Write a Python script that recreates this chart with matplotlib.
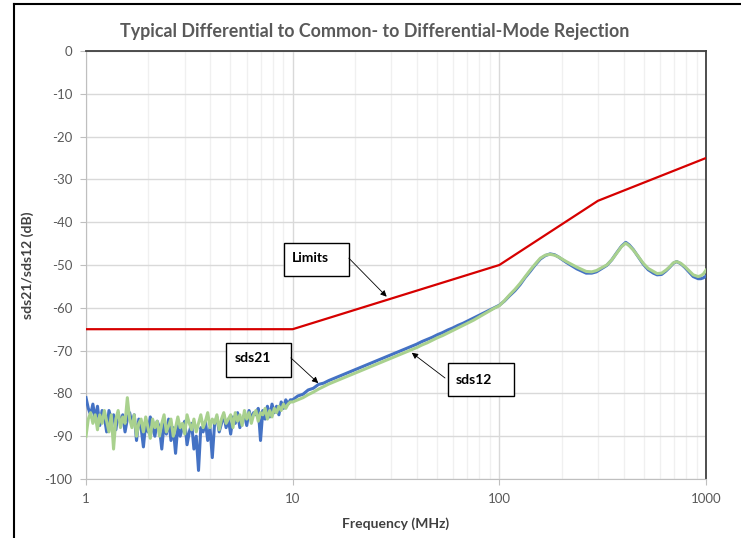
import numpy as np
import matplotlib.pyplot as plt

plt.rcParams['font.family'] = ['Lato', 'DejaVu Sans']
plt.rcParams['axes.unicode_minus'] = False

# limit line
lim_f = [1, 10, 100, 300, 1000]
lim_db = [-65, -65, -50, -35, -25]

# noisy part 1..10 MHz (sweep points)
f_noise = np.logspace(0, 1, 91)
sds21_noise = [-81, -83.5, -85, -82.5, -86, -83, -87.5, -84, -85.5, -89,
               -84, -86, -85, -88.5, -84.5, -87, -85, -89, -86, -84.5,
               -87, -85, -91, -86, -88, -92.5, -87, -89, -85.5, -88,
               -90, -86.5, -88, -93, -87, -89.5, -86, -91, -88, -94,
               -87.5, -90, -88, -86.5, -92, -89, -87, -93, -90, -98,
               -88, -89, -86.5, -91, -88, -95, -87, -85.5, -89, -87,
               -85, -88, -86, -89.5, -85.5, -87, -84.5, -88, -86, -85,
               -87.5, -84, -86, -84.5, -85, -83.5, -91, -84, -86, -83,
               -85.5, -82.5, -84.5, -83, -85, -82, -83.5, -81.5, -82.5, -81.5, -81.5]
sds12_noise = [-90, -86, -84.5, -87, -85, -88.5, -85, -87, -84, -86.5,
               -89, -85, -93, -86, -84, -88, -85.5, -87, -81, -86,
               -88, -85, -90, -87, -86, -89, -85.5, -88, -90.5, -86,
               -88, -86.5, -90, -87, -85, -89, -87.5, -86, -90, -88,
               -85.5, -88, -87, -89.5, -85, -87, -88.5, -86, -89, -87,
               -85, -88, -86.5, -84.5, -88, -86, -87, -85, -88.5, -86,
               -84.5, -87, -86, -85, -88, -84.5, -86.5, -85, -87.5, -84,
               -86, -84.5, -87, -85, -84, -86.5, -84.5, -85, -83.5, -86,
               -84, -85.5, -83.5, -84.5, -83, -84, -82.5, -83.5, -82.5, -82, -82]

# smooth part 10..100 MHz
f_mid = np.logspace(1, 2, 41)[1:]
sds21_mid = [-80.6, -80.2, -79.2, -78.8, -77.9, -77.6, -77.0, -76.5, -76.0, -75.5,
             -75.0, -74.5, -74.0, -73.5, -73.0, -72.5, -72.0, -71.5, -71.0, -70.5,
             -70.0, -69.5, -69.0, -68.5, -67.9, -67.4, -66.9, -66.3, -65.8, -65.2,
             -64.7, -64.1, -63.6, -63.0, -62.4, -61.8, -61.2, -60.6, -60.0, -59.4]
sds12_mid = [-81.5, -81.0, -80.3, -79.7, -79.0, -78.4, -77.8, -77.3, -76.8, -76.3,
             -75.8, -75.3, -74.8, -74.3, -73.8, -73.3, -72.8, -72.3, -71.8, -71.3,
             -70.8, -70.3, -69.8, -69.3, -68.7, -68.2, -67.6, -67.0, -66.5, -65.9,
             -65.3, -64.7, -64.1, -63.5, -62.9, -62.2, -61.5, -60.8, -60.1, -59.5]

# resonance part 100..1000 MHz
f_high = [106, 112, 119, 126, 133, 141, 149, 158, 167, 176, 185, 193, 211, 237,
          263, 280, 295, 331, 350, 369, 390, 409, 425, 445, 470, 497, 525, 556,
          580, 610, 640, 668, 695, 721, 755, 791, 830, 867, 916, 945, 971, 1000]
sds21_high = [-58.4, -57.2, -56.0, -54.6, -53.0, -51.5, -50.0, -48.6, -47.8, -47.4, -47.6, -48.1, -49.4, -50.9,
              -51.9, -51.9, -51.6, -50.1, -48.8, -47.2, -45.6, -44.7, -45.3, -46.4, -48.1, -49.8, -51.1, -51.9,
              -52.3, -52.2, -51.4, -50.5, -49.6, -49.2, -49.7, -50.6, -51.7, -52.7, -53.2, -53.2, -53.0, -52.6]
sds12_high = [-58.3, -57.0, -55.7, -54.3, -52.8, -51.2, -49.8, -48.4, -47.7, -47.5, -47.7, -48.1, -49.2, -50.5,
              -51.5, -51.6, -51.3, -50.0, -48.8, -47.3, -45.7, -44.9, -45.5, -46.5, -48.0, -49.6, -50.8, -51.5,
              -52.0, -51.9, -51.2, -50.4, -49.5, -49.2, -49.6, -50.4, -51.4, -52.3, -52.7, -52.5, -52.1, -51.2]

freq = np.concatenate([f_noise, f_mid, f_high])
sds21 = np.concatenate([sds21_noise, sds21_mid, sds21_high])
sds12 = np.concatenate([sds12_noise, sds12_mid, sds12_high])

fig = plt.figure(figsize=(7.41, 5.38), dpi=100)
ax = fig.add_axes([86/741, 59/538, 620/741, 428/538])

ax.plot(lim_f, lim_db, color='#D60000', lw=1.6, zorder=3)
ax.plot(freq, sds21, color='#4472C4', lw=2.2, zorder=4, solid_joinstyle='round')
ax.plot(freq, sds12, color='#A9D18E', lw=2.2, zorder=5, solid_joinstyle='round')

ax.set_xscale('log')
ax.set_xlim(1, 1000)
ax.set_ylim(-100, 0)
ax.set_yticks(np.arange(-100, 1, 10))
ax.set_xticks([1, 10, 100, 1000])
ax.set_xticklabels(['1', '10', '100', '1000'])
ax.grid(True, which='major', color='#D9D9D9', lw=1.0)
ax.grid(True, which='minor', axis='x', color='#F0F0F0', lw=1.0)
ax.set_axisbelow(True)
ax.tick_params(which='major', length=4, color='#BFBFBF', labelcolor='#595959',
               labelsize=9.5, pad=6)
ax.tick_params(which='minor', length=0)

for s in ['left', 'bottom']:
    ax.spines[s].set_color('#BFBFBF')
for s in ['top', 'right']:
    ax.spines[s].set_color('#404040')
    ax.spines[s].set_linewidth(1.3)

ax.set_xlabel('Frequency (MHz)', fontsize=10, fontweight='bold', color='#404040')
ax.set_ylabel('sds21/sds12 (dB)', fontsize=10, fontweight='bold', color='#404040')
ax.xaxis.set_label_coords(0.5, -0.089)
ax.yaxis.set_label_coords(-0.084, 0.5)

fig.text(375/741, 1 - 32/538, 'Typical Differential to Common- to Differential-Mode Rejection',
         ha='center', va='center', fontsize=12.9, fontweight='bold', color='#595959')

# annotation boxes (axes fraction)
boxes = [('Limits', 0.319, 0.474, 0.105, 0.077, 0.332, 0.517),
         ('sds21', 0.226, 0.238, 0.105, 0.080, 0.240, 0.282),
         ('sds12', 0.584, 0.194, 0.106, 0.077, 0.597, 0.231)]
for txt, x0, y0, w, h, tx, ty in boxes:
    ax.add_patch(plt.Rectangle((x0, y0), w, h, transform=ax.transAxes, fc='white',
                               ec='black', lw=1.0, zorder=6))
    ax.text(tx, ty, txt, transform=ax.transAxes, ha='left', va='center',
            fontsize=10, fontweight='bold', color='black', zorder=7)

arrows = [((28.5, -57.4), (18.7, -48.4)),
          ((13.3, -77.6), (9.8, -71.7)),
          ((37.7, -70.5), (54.6, -76.4))]
for tip, start in arrows:
    ax.annotate('', xy=tip, xytext=start,
                arrowprops=dict(arrowstyle='-|>', color='black', lw=0.6,
                                mutation_scale=9, shrinkA=0, shrinkB=0), zorder=7)

# outer frame lines
fig.add_artist(plt.Line2D([14/741, 1], [1 - 4/538, 1 - 4/538], color='black', lw=1.5))
fig.add_artist(plt.Line2D([14/741, 14/741], [0, 1 - 4/538], color='black', lw=1.5))

fig.savefig('out.png', dpi=100)
